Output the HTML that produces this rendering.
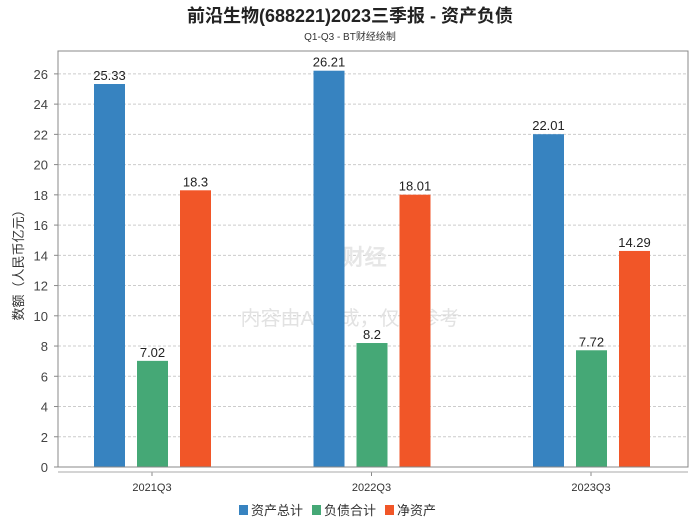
<!DOCTYPE html>
<html><head><meta charset="utf-8"><style>
body{margin:0;background:#fff;width:700px;height:524px;overflow:hidden;font-family:"Liberation Sans","Noto Sans CJK SC",sans-serif}
</style></head><body>
<svg id="c" width="700" height="524" xmlns="http://www.w3.org/2000/svg">
<text x="350" y="22" text-anchor="middle" font-size="18" font-weight="bold" fill="#222" font-family="Liberation Sans,Noto Sans CJK SC,sans-serif">前沿生物(688221)2023三季报 - 资产负债</text>
<text x="350" y="40" text-anchor="middle" font-size="10" fill="#333" font-family="Liberation Sans,Noto Sans CJK SC,sans-serif">Q1-Q3 - BT财经绘制</text>
<g id="grid"></g>
<text x="350" y="265" text-anchor="middle" font-size="22" font-weight="bold" fill="#e6e6e6" font-family="Liberation Serif,serif">BT财经</text>
<text x="350" y="325" text-anchor="middle" font-size="20" fill="#e2e2e2" font-family="Liberation Sans,Noto Sans CJK SC,sans-serif">内容由AI生成，仅供参考</text>
<g id="bars"></g>
<rect x="58" y="51" width="630" height="416" fill="none" stroke="#888"/>
<line x1="58" y1="472" x2="688" y2="472" stroke="#aaa"/>
<text transform="translate(23,262) rotate(-90)" text-anchor="middle" font-size="13" fill="#333" font-family="Liberation Sans,Noto Sans CJK SC,sans-serif">数额（人民币亿元）</text>
<g id="legend"></g>
</svg>
<script>
const categories=["2021Q3","2022Q3","2023Q3"];
const seriesNames=["资产总计","负债合计","净资产"];
const totalAssets=[25.33,26.21,22.01];
const totalLiab=[7.02,8.2,7.72];
const netAssets=[18.3,18.01,14.29];
const yTicks=[0,2,4,6,8,10,12,14,16,18,20,22,24,26];
const colors=["#3783c0","#45a876","#f15628"];
const NS="http://www.w3.org/2000/svg";
const y=v=>467-v*15.12;
const xc=i=>152+219.5*i;
function mk(t,a,p){const e=document.createElementNS(NS,t);for(const k in a)e.setAttribute(k,a[k]);p.appendChild(e);return e;}
const grid=document.getElementById('grid');
yTicks.forEach(v=>{
 if(v>0){const l=mk('line',{x1:58,x2:688,y1:y(v),y2:y(v),stroke:'#ccc','stroke-dasharray':'3,2'},grid);
 
 }
 const t=mk('text',{x:48,y:y(v)+5,'text-anchor':'end','font-size':13,fill:'#444'},grid);t.textContent=v;
 
 
 mk('line',{x1:54,x2:58,y1:y(v),y2:y(v),stroke:'#888'},grid);
});
const bars=document.getElementById('bars');
const series=[totalAssets,totalLiab,netAssets];
categories.forEach((c,i)=>{
 series.forEach((s,j)=>{
  const x=xc(i)-58+43*j;
  const r=mk('rect',{x:x,y:y(s[i]),width:31,height:467-y(s[i]),fill:colors[j]},bars);
  
  
  const t=mk('text',{x:x+15.5,y:y(s[i])-4,'text-anchor':'middle','font-size':13,fill:'#222'},bars);t.textContent=s[i];
  
  
 });
 mk('line',{x1:xc(i),x2:xc(i),y1:472,y2:476,stroke:'#888'},bars);
 const t=mk('text',{x:xc(i),y:491,'text-anchor':'middle','font-size':11,fill:'#333'},bars);t.textContent=c;
 
 
});
const lg=document.getElementById('legend');
let lx=239;
seriesNames.forEach((n,j)=>{
 const g=mk('g',{},lg);
 
 
 mk('rect',{x:lx,y:505,width:9,height:10,fill:colors[j]},g);
 const t=mk('text',{x:lx+12,y:515,'font-size':13,fill:'#333','font-family':'Liberation Sans,Noto Sans CJK SC,sans-serif'},g);t.textContent=n;
 lx+=12+n.length*14+5;
});
</script>
</body></html>
